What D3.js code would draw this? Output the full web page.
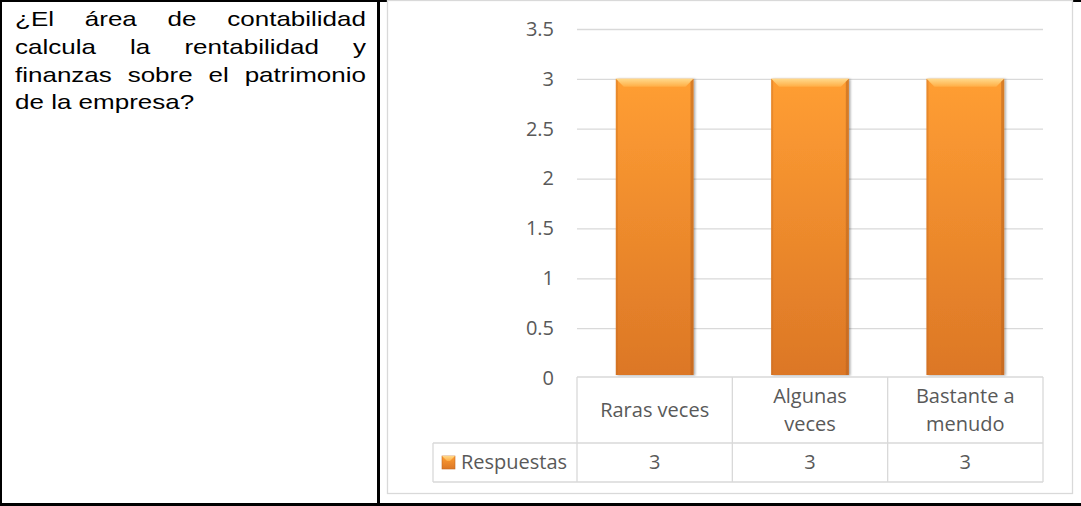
<!DOCTYPE html>
<html>
<head>
<meta charset="utf-8">
<script src="https://cdn.jsdelivr.net/npm/d3@7"></script>
<style>
  html, body { margin: 0; padding: 0; background: #fff; }
  svg { display: block; }
</style>
</head>
<body>
<svg id="chart" width="1081" height="506"></svg>
<script>
// question text, one entry per rendered line (last line is not justified)
const questionLines = [
  "¿El área de contabilidad",
  "calcula la rentabilidad y",
  "finanzas sobre el patrimonio",
  "de la empresa?"
];
const categories = ["Raras veces", "Algunas veces", "Bastante a menudo"];
const seriesName = "Respuestas";
const values = [3, 3, 3];
const yTicks = [0, 0.5, 1, 1.5, 2, 2.5, 3, 3.5];

const svg = d3.select("#chart");
const grey = "#d9d9d9";
const textGrey = "#595959";
const chartFont = "'Open Sans', sans-serif";
const chartSize = 20;

// gradients
const defs = svg.append("defs");
const barGrad = defs.append("linearGradient").attr("id", "barGrad")
  .attr("x1", 0).attr("y1", 0).attr("x2", 0).attr("y2", 1);
barGrad.append("stop").attr("offset", "0%").attr("stop-color", "#ff9e33");
barGrad.append("stop").attr("offset", "100%").attr("stop-color", "#dc7726");
const bevelGrad = defs.append("linearGradient").attr("id", "bevelGrad")
  .attr("x1", 0).attr("y1", 0).attr("x2", 0).attr("y2", 1);
bevelGrad.append("stop").attr("offset", "0%").attr("stop-color", "#ffd98a");
bevelGrad.append("stop").attr("offset", "100%").attr("stop-color", "#ffad45");
const shadow = defs.append("filter").attr("id", "shadow")
  .attr("x", "-20%").attr("y", "-5%").attr("width", "140%").attr("height", "110%");
shadow.append("feDropShadow").attr("dx", 1.5).attr("dy", 0.5).attr("stdDeviation", 1.2)
  .attr("flood-color", "#000").attr("flood-opacity", 0.35);

// table borders (black)
const black = svg.append("g").attr("fill", "#000");
black.append("rect").attr("x", 0).attr("y", 0).attr("width", 1081).attr("height", 2);
black.append("rect").attr("x", 0).attr("y", 0).attr("width", 2).attr("height", 506);
black.append("rect").attr("x", 377).attr("y", 0).attr("width", 3).attr("height", 506);
black.append("rect").attr("x", 0).attr("y", 503).attr("width", 1081).attr("height", 3);

// question text, justified line by line (glyphs are wide in the source: stretch x)
const textLeft = 15, textRight = 366, stretch = 1.3, lineH = 27.6, firstBase = 26.5;
const textG = svg.append("g")
  .attr("transform", `translate(${textLeft},0) scale(${stretch},1)`)
  .attr("font-family", "'Liberation Sans', Arial, sans-serif")
  .attr("font-size", 20).attr("fill", "#000");
const boxW = (textRight - textLeft) / stretch;
questionLines.forEach((line, i) => {
  const t = textG.append("text").attr("x", 0).attr("y", firstBase + i * lineH).text(line);
  if (i < questionLines.length - 1) {
    const words = line.split(" ");
    const natural = t.node().getComputedTextLength();
    const extra = (boxW - natural) / (words.length - 1);
    t.attr("word-spacing", extra);
  }
});

// chart area
svg.append("rect")
  .attr("x", 387.5).attr("y", 0.5).attr("width", 685).attr("height", 493)
  .attr("fill", "#fff").attr("stroke", grey).attr("stroke-width", 1.3);

const plotLeft = 577, plotRight = 1043;
const x = d3.scaleBand().domain(categories).range([plotLeft, plotRight])
  .paddingInner(0.5).paddingOuter(0.25);
const col = d3.scaleBand().domain(categories).range([plotLeft, plotRight]);
const y = d3.scaleLinear().domain([0, 3.5]).range([378, 29]);

// gridlines + y labels
const yAxis = svg.append("g")
  .attr("transform", `translate(${plotLeft},0)`)
  .call(d3.axisLeft(y).tickValues(yTicks).tickSize(-(plotRight - plotLeft))
    .tickPadding(23).tickFormat(d3.format("")));
yAxis.select(".domain").remove();
yAxis.selectAll(".tick line").attr("stroke", grey).attr("stroke-width", 1.3)
  .filter(d => d === 0).remove();
yAxis.selectAll(".tick text").attr("fill", textGrey)
  .attr("font-family", chartFont).attr("font-size", chartSize);

// bars
const bars = svg.append("g").selectAll("g").data(values).join("g")
  .attr("filter", "url(#shadow)");
bars.each(function (v, i) {
  const g = d3.select(this);
  const bx = x(categories[i]), bw = x.bandwidth(), by = y(v), bh = y(0) - 3 - y(v);
  const b = 8;
  g.append("rect").attr("x", bx).attr("y", by).attr("width", bw).attr("height", bh)
    .attr("fill", "url(#barGrad)");
  g.append("path")
    .attr("d", `M${bx},${by}H${bx + bw}L${bx + bw - b},${by + b}H${bx + b}Z`)
    .attr("fill", "url(#bevelGrad)");
  g.append("path")
    .attr("d", `M${bx + bw},${by}L${bx + bw - 3},${by + 3}V${by + bh}H${bx + bw}Z`)
    .attr("fill", "#b8621f").attr("opacity", 0.55);
  g.append("path")
    .attr("d", `M${bx},${by}L${bx + 2},${by + 2}V${by + bh}H${bx}Z`)
    .attr("fill", "#c46a22").attr("opacity", 0.35);
});

// data table
const rowTop = 377, rowMid = 443, rowBottom = 482, legendLeft = 433;
const tbl = svg.append("g").attr("stroke", grey).attr("stroke-width", 1.3);
tbl.append("line").attr("x1", plotLeft).attr("x2", plotRight).attr("y1", rowTop).attr("y2", rowTop);
tbl.append("line").attr("x1", legendLeft).attr("x2", plotRight).attr("y1", rowMid).attr("y2", rowMid);
tbl.append("line").attr("x1", legendLeft).attr("x2", plotRight).attr("y1", rowBottom).attr("y2", rowBottom);
tbl.append("line").attr("x1", legendLeft).attr("x2", legendLeft).attr("y1", rowMid).attr("y2", rowBottom);
categories.forEach(c => {
  tbl.append("line").attr("x1", col(c)).attr("x2", col(c)).attr("y1", rowTop).attr("y2", rowBottom);
});
tbl.append("line").attr("x1", plotRight).attr("x2", plotRight).attr("y1", rowTop).attr("y2", rowBottom);

// category labels (wrapped to the column)
const catG = svg.append("g").attr("font-family", chartFont).attr("font-size", chartSize)
  .attr("fill", textGrey).attr("text-anchor", "middle");
categories.forEach(c => {
  const cx = col(c) + col.bandwidth() / 2;
  const t = catG.append("text").attr("x", cx);
  const words = c.split(" ");
  let lines = [], cur = [];
  words.forEach(w => {
    const test = cur.concat(w).join(" ");
    t.text(test);
    if (t.node().getComputedTextLength() > 118 && cur.length) {
      lines.push(cur.join(" "));
      cur = [w];
    } else cur.push(w);
  });
  lines.push(cur.join(" "));
  t.text(null);
  const center = (rowTop + rowMid) / 2 + 7, lh = 28;
  lines.forEach((l, k) => {
    t.append("tspan").attr("x", cx)
      .attr("y", center + (k - (lines.length - 1) / 2) * lh).text(l);
  });
});

// legend row
svg.append("rect").attr("x", 442).attr("y", 456).attr("width", 13).attr("height", 13)
  .attr("fill", "url(#barGrad)").attr("stroke", "#c46a22").attr("stroke-width", 0.6);
svg.append("path").attr("d", "M442,456H455L450,461H447Z").attr("fill", "url(#bevelGrad)");
svg.append("text").attr("x", 461).attr("y", 469)
  .attr("font-family", chartFont).attr("font-size", chartSize).attr("fill", textGrey)
  .text(seriesName);
svg.append("g").selectAll("text").data(values).join("text")
  .attr("x", (d, i) => col(categories[i]) + col.bandwidth() / 2).attr("y", 469)
  .attr("text-anchor", "middle")
  .attr("font-family", chartFont).attr("font-size", chartSize).attr("fill", textGrey)
  .text(d => d);
</script>
</body>
</html>
